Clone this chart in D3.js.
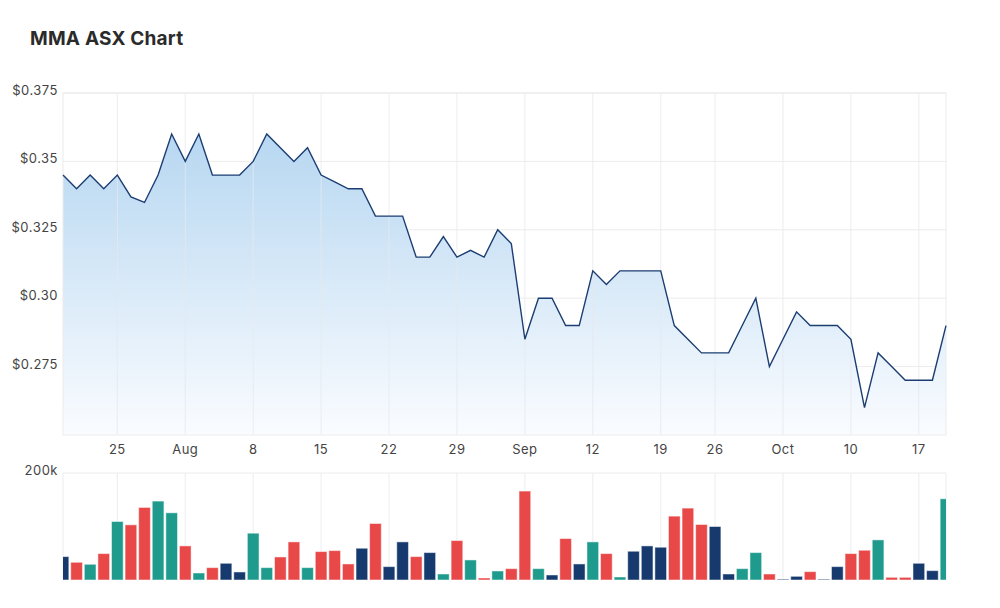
<!DOCTYPE html>
<html>
<head>
<meta charset="utf-8">
<script src="https://cdn.jsdelivr.net/npm/d3@7"></script>
<style>
  body { margin: 0; background: #fff; font-family: Inter, "Noto Sans", sans-serif; }
  .axis-label { font-size: 13px; fill: #444; letter-spacing: 0.5px; }
  .title { font-size: 19px; font-weight: 700; fill: #2b2b2b; letter-spacing: 0.2px; }
</style>
</head>
<body>
<svg id="chart" width="1000" height="608"></svg>
<script>
// trading days (ASX closed 22 Sep 2022)
const dates = [
  '2022-07-19','2022-07-20','2022-07-21','2022-07-22',
  '2022-07-25','2022-07-26','2022-07-27','2022-07-28','2022-07-29',
  '2022-08-01','2022-08-02','2022-08-03','2022-08-04','2022-08-05',
  '2022-08-08','2022-08-09','2022-08-10','2022-08-11','2022-08-12',
  '2022-08-15','2022-08-16','2022-08-17','2022-08-18','2022-08-19',
  '2022-08-22','2022-08-23','2022-08-24','2022-08-25','2022-08-26',
  '2022-08-29','2022-08-30','2022-08-31','2022-09-01','2022-09-02',
  '2022-09-05','2022-09-06','2022-09-07','2022-09-08','2022-09-09',
  '2022-09-12','2022-09-13','2022-09-14','2022-09-15','2022-09-16',
  '2022-09-19','2022-09-20','2022-09-21','2022-09-23',
  '2022-09-26','2022-09-27','2022-09-28','2022-09-29','2022-09-30',
  '2022-10-03','2022-10-04','2022-10-05','2022-10-06','2022-10-07',
  '2022-10-10','2022-10-11','2022-10-12','2022-10-13','2022-10-14',
  '2022-10-17','2022-10-18','2022-10-19'
]
const prices = [
  0.345, 0.34, 0.345, 0.34,
  0.345, 0.337, 0.335, 0.345, 0.36,
  0.35, 0.36, 0.345, 0.345, 0.345,
  0.35, 0.36, 0.355, 0.35, 0.355,
  0.345, 0.3425, 0.34, 0.34, 0.33,
  0.33, 0.33, 0.315, 0.315, 0.3225,
  0.315, 0.3175, 0.315, 0.325, 0.32,
  0.285, 0.30, 0.30, 0.29, 0.29,
  0.31, 0.305, 0.31, 0.31, 0.31,
  0.31, 0.29, 0.285, 0.28,
  0.28, 0.28, 0.29, 0.30, 0.275,
  0.285, 0.295, 0.29, 0.29, 0.29,
  0.285, 0.26, 0.28, 0.275, 0.27,
  0.27, 0.27, 0.29
]
const volumes = [
  43750, 33125, 29375, 49375,
  109375, 103125, 135625, 147500, 125625,
  63750, 13125, 23125, 31250, 15000,
  87500, 23125, 43125, 71250, 23125,
  53125, 55000, 30000, 59375, 105625,
  25000, 71250, 43750, 51250, 11250,
  73750, 37500, 3750, 16875, 21250,
  166250, 21250, 9375, 77500, 30000,
  71250, 49375, 5625, 53750, 63750,
  61250, 119375, 134375, 103750,
  100000, 11250, 21250, 51250, 11250,
  1500, 6875, 15625, 1500, 25000,
  49375, 55625, 75000, 5000, 5000,
  31250, 17500, 151875
]
// 1 = close above open, -1 = below, 0 = flat
const moves = [
  0, -1, 1, -1,
  1, -1, -1, 1, 1,
  -1, 1, -1, 0, 0,
  1, 1, -1, -1, 1,
  -1, -1, -1, 0, -1,
  0, 0, -1, 0, 1,
  -1, 1, -1, 1, -1,
  -1, 1, 0, -1, 0,
  1, -1, 1, 0, 0,
  0, -1, -1, -1,
  0, 0, 1, 1, -1,
  0, 0, -1, 0, 0,
  -1, -1, 1, -1, -1,
  0, 0, 1
]
const priceTicks = [0.275, 0.30, 0.325, 0.35, 0.375]
const monthNames = ['Jan','Feb','Mar','Apr','May','Jun','Jul','Aug','Sep','Oct','Nov','Dec']

const svg = d3.select('#chart')
const left = 63, right = 946
const price = { top: 93, bottom: 435 }
const vol = { top: 473, bottom: 580 }
const moveColor = { '1': '#1f9b8e', '-1': '#e84848', '0': '#163a6e' }
const gridColor = '#ececec'

svg.append('text').attr('class', 'title')
  .attr('x', 30).attr('y', 45)
  .text('MMA ASX Chart')

const parse = d3.timeParse('%Y-%m-%d')
const days = dates.map(parse)
const data = days.map((d, i) => ({ i, date: d, price: prices[i], vol: volumes[i], move: moves[i] }))

const x = d3.scaleLinear().domain([0, data.length - 1]).range([left, right])
const yPrice = d3.scaleLinear().domain([0.25, 0.375]).range([price.bottom, price.top])
const yVol = d3.scaleLinear().domain([0, 200000]).range([vol.bottom, vol.top])

// weekly ticks on Mondays
const tickIdx = data.filter(d => d.date.getDay() === 1).map(d => d.i)
const tickText = i => {
  const d = days[i]
  return d.getDate() <= 7 ? monthNames[d.getMonth()] : d.getDate()
}

// ---- price panel
const defs = svg.append('defs')
const grad = defs.append('linearGradient')
  .attr('id', 'area-grad')
  .attr('gradientUnits', 'userSpaceOnUse')
  .attr('x1', 0).attr('x2', 0)
  .attr('y1', yPrice(0.36)).attr('y2', price.bottom)
grad.append('stop').attr('offset', '0%').attr('stop-color', '#b7d7f1')
grad.append('stop').attr('offset', '100%').attr('stop-color', '#fafcff')

const pg = svg.append('g')
pg.append('g')
  .selectAll('line')
  .data(priceTicks)
  .join('line')
  .attr('x1', left).attr('x2', right)
  .attr('y1', d => yPrice(d)).attr('y2', d => yPrice(d))
  .attr('stroke', gridColor)

pg.append('path')
  .datum(data)
  .attr('fill', 'url(#area-grad)')
  .attr('d', d3.area().x(d => x(d.i)).y0(price.bottom).y1(d => yPrice(d.price)))

pg.append('g')
  .selectAll('line')
  .data(tickIdx)
  .join('line')
  .attr('x1', d => x(d)).attr('x2', d => x(d))
  .attr('y1', price.top).attr('y2', price.bottom)
  .attr('stroke', '#e6e9ee').attr('stroke-opacity', 0.8)

pg.append('rect')
  .attr('x', left).attr('y', price.top)
  .attr('width', right - left).attr('height', price.bottom - price.top)
  .attr('fill', 'none').attr('stroke', gridColor)

pg.append('path')
  .datum(data)
  .attr('fill', 'none')
  .attr('stroke', '#1b3d72')
  .attr('stroke-width', 1.4)
  .attr('stroke-linejoin', 'miter')
  .attr('d', d3.line().x(d => x(d.i)).y(d => yPrice(d.price)))

const fmtPrice = d => '$' + (Math.round(d * 1000) % 10 ? d.toFixed(3) : d.toFixed(2))
pg.append('g')
  .selectAll('text')
  .data(priceTicks)
  .join('text')
  .attr('class', 'axis-label')
  .attr('x', 58).attr('y', d => yPrice(d) - 1.5)
  .attr('text-anchor', 'end')
  .attr('dominant-baseline', 'middle')
  .text(fmtPrice)

pg.append('g')
  .selectAll('text')
  .data(tickIdx)
  .join('text')
  .attr('class', 'axis-label')
  .attr('x', d => x(d)).attr('y', 454)
  .attr('text-anchor', 'middle')
  .text(tickText)

// ---- volume panel
defs.append('clipPath').attr('id', 'vol-clip')
  .append('rect')
  .attr('x', left).attr('y', vol.top - 5)
  .attr('width', right - left).attr('height', vol.bottom - vol.top + 10)

const vg = svg.append('g')
vg.append('g')
  .selectAll('line')
  .data(tickIdx)
  .join('line')
  .attr('x1', d => x(d)).attr('x2', d => x(d))
  .attr('y1', vol.top).attr('y2', vol.bottom)
  .attr('stroke', '#e6e9ee').attr('stroke-opacity', 0.8)

vg.append('line')
  .attr('x1', left).attr('x2', right)
  .attr('y1', yVol(200000)).attr('y2', yVol(200000))
  .attr('stroke', gridColor)
vg.append('line')
  .attr('x1', left).attr('x2', left)
  .attr('y1', vol.top).attr('y2', vol.bottom)
  .attr('stroke', gridColor)
vg.append('line')
  .attr('x1', right).attr('x2', right)
  .attr('y1', vol.top).attr('y2', vol.bottom)
  .attr('stroke', gridColor)

const step = x(1) - x(0)
const barW = step * 0.86
vg.append('g')
  .attr('clip-path', 'url(#vol-clip)')
  .selectAll('rect')
  .data(data)
  .join('rect')
  .attr('x', d => x(d.i) - barW / 2)
  .attr('y', d => yVol(d.vol))
  .attr('width', barW)
  .attr('height', d => vol.bottom - yVol(d.vol))
  .attr('fill', d => moveColor[d.move])
  .attr('stroke', '#fff').attr('stroke-opacity', 0.5).attr('stroke-width', 1)

vg.append('text')
  .attr('class', 'axis-label')
  .attr('x', 58).attr('y', yVol(200000) - 1.5)
  .attr('text-anchor', 'end')
  .attr('dominant-baseline', 'middle')
  .text('200k')
</script>
</body>
</html>
